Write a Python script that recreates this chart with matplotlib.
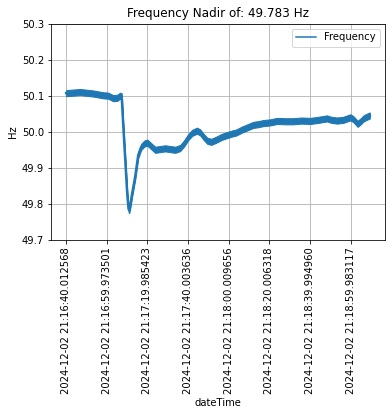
import matplotlib
matplotlib.use("Agg")
import matplotlib.pyplot as plt
import numpy as np
from matplotlib.lines import Line2D

# sample index (50 samples per second) and frequency values
sample_idx = [0, 345, 665, 911, 1034, 1158, 1256, 1330, 1367, 1404, 1453, 1502, 1535, 1552,
              1576, 1626, 1700, 1773, 1847, 1921, 1995, 2093, 2192, 2315, 2438, 2562, 2685,
              2808, 2906, 3005, 3103, 3219, 3300, 3382, 3473, 3571, 3695, 3835, 3966, 4081,
              4187, 4328, 4458, 4606, 4729, 4852, 5025, 5189, 5394, 5591, 5788, 6010, 6207,
              6421, 6527, 6667, 6823, 6995, 7069, 7175, 7241, 7323, 7389, 7475]
frequency = [50.107, 50.110, 50.106, 50.101, 50.100, 50.093, 50.094, 50.100, 50.098, 50.020,
             49.925, 49.830, 49.786, 49.783, 49.795, 49.830, 49.876, 49.935, 49.958, 49.967,
             49.970, 49.960, 49.950, 49.952, 49.954, 49.952, 49.950, 49.955, 49.968, 49.985,
             49.997, 50.003, 49.998, 49.986, 49.975, 49.972, 49.978, 49.986, 49.991, 49.995,
             49.998, 50.006, 50.012, 50.019, 50.021, 50.024, 50.026, 50.030, 50.029, 50.029,
             50.031, 50.030, 50.033, 50.037, 50.033, 50.031, 50.033, 50.040, 50.035, 50.022,
             50.028, 50.037, 50.041, 50.045]
noise_half_band = 0.0085  # half the vertical spread of the noisy trace (Hz)

tick_positions = [0, 1000, 2000, 3000, 4000, 5000, 6000, 7000]
tick_labels = ['2024-12-02 21:16:40.012568', '2024-12-02 21:16:59.973501',
               '2024-12-02 21:17:19.985423', '2024-12-02 21:17:40.003636',
               '2024-12-02 21:18:00.009656', '2024-12-02 21:18:20.006318',
               '2024-12-02 21:18:39.994960', '2024-12-02 21:18:59.983117']
y_ticks = [49.7, 49.8, 49.9, 50.0, 50.1, 50.2, 50.3]
nadir = 49.783

plt.rcParams['font.family'] = ['DejaVu Sans']
plt.rcParams['font.size'] = 10

fig = plt.figure(figsize=(392 / 72, 416 / 72), dpi=72)
ax = fig.add_axes([51 / 392, 176 / 416, 334 / 392, 216.5 / 416])

color = '#1f77b4'
f = np.array(frequency)
ax.fill_between(sample_idx, f - noise_half_band, f + noise_half_band, color=color,
                linewidth=1.0, edgecolor=color)
ax.plot(sample_idx, frequency, color=color, linewidth=2.5, solid_joinstyle='round')

ax.set_xlim(-0.05 * sample_idx[-1], sample_idx[-1] * 1.05)
ax.set_ylim(49.7, 50.3)
ax.set_yticks(y_ticks)
ax.set_xticks(tick_positions)
ax.set_xticklabels(tick_labels, rotation=90)
ax.grid(True, color='#b0b0b0', linewidth=0.8)
ax.set_axisbelow(True)

ax.set_title(f'Frequency Nadir of: {nadir} Hz')
ax.set_xlabel('dateTime')
ax.set_ylabel('Hz')

handle = Line2D([], [], color=color, linewidth=1.5)
ax.legend([handle], ['Frequency'], loc='upper right')

fig.savefig('out.png', dpi=72, facecolor='white')
